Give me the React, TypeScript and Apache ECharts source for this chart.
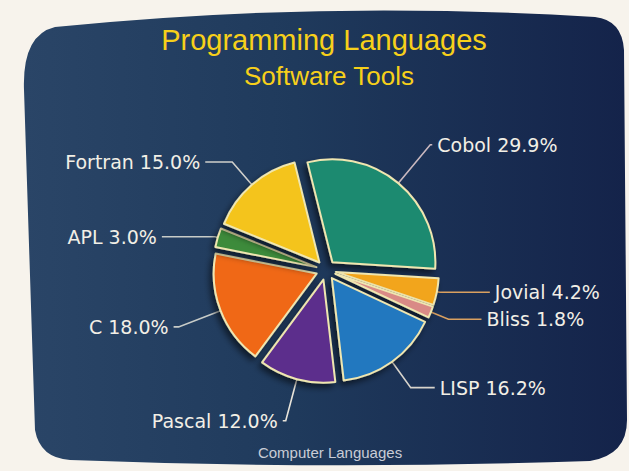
import React, { useEffect, useRef } from "react";
import * as echarts from "echarts";

const languages = ["Cobol", "Jovial", "Bliss", "LISP", "Pascal", "C", "APL", "Fortran"];
const shares = [29.9, 4.2, 1.8, 16.2, 12.0, 18.0, 3.0, 15.0];
const titleText = "Programming Languages";
const subtitleText = "Software Tools";
const footerText = "Computer Languages";

// styling (not data)
const sliceColors = ["#1d8a70", "#f2a51e", "#d98a86", "#2478bf", "#5b2d8c", "#f06818", "#3d8b3a", "#f4c41a"];
const lineColors = ["#c9b8bf", "#d9a060", "#d9a060", "#d8d4cc", "#e8e4da", "#c8ccc8", "#c8ccc8", "#d0d0cc"];
const leaderLen = [50, 3, 19, 32, 43, 45, 3, 30];
const leaderLen2 = [2, 50, 33, 24, 3, 5, 53, 27];

const screenPath =
  "M 55 27 Q 320 0 595 17 Q 622 20 624 50 L 627 420 Q 627 455 590 461 Q 330 470 70 460 Q 40 458 35 430 L 24 90 Q 22 35 55 27 Z";

let registered = false;

export default function App() {
  const ref = useRef<HTMLDivElement>(null);
  useEffect(() => {
    document.body.style.margin = "0";
    if (!registered) {
      echarts.graphic.registerShape("screen", echarts.graphic.extendPath(screenPath, {}) as any);
      registered = true;
    }
    const chart = echarts.init(ref.current!, undefined, { renderer: "svg" });
    const data = languages.map((name, i) => ({
      name,
      value: shares[i],
      selected: true,
      itemStyle: { color: sliceColors[i] },
      labelLine: { length: leaderLen[i], length2: leaderLen2[i], lineStyle: { color: lineColors[i] } },
    }));
    const titleStyle = {
      color: "#f7d01a",
      fontWeight: "normal",
      fontFamily: "Liberation Sans, Arial, sans-serif",
      textShadowColor: "#a8400c",
      textShadowOffsetX: 1.8,
      textShadowOffsetY: 1.8,
    };
    chart.setOption({
      animation: false,
      backgroundColor: "#f7f3ec",
      graphic: {
        elements: [
          {
            type: "screen",
            x: 0,
            y: 0,
            z: -10,
            silent: true,
            style: {
              fill: new echarts.graphic.LinearGradient(0, 0, 1, 0, [
                { offset: 0, color: "#2a4567" },
                { offset: 0.45, color: "#1f3a5c" },
                { offset: 1, color: "#14234a" },
              ]),
            },
          },
        ],
      },
      title: [
        {
          text: titleText,
          left: 319,
          textAlign: "center",
          top: 20,
          textStyle: { ...titleStyle, fontSize: 29 },
        },
        {
          text: subtitleText,
          left: 324,
          textAlign: "center",
          top: 58,
          textStyle: { ...titleStyle, fontSize: 26 },
        },
        {
          text: footerText,
          left: 325,
          textAlign: "center",
          top: 440,
          textStyle: {
            color: "#c9ccd6",
            fontSize: 15,
            fontWeight: "normal",
            fontFamily: "Liberation Sans, Arial, sans-serif",
          },
        },
      ],
      series: [
        {
          type: "pie",
          center: [326, 270],
          radius: 103,
          startAngle: 104,
          clockwise: true,
          selectedMode: "multiple",
          selectedOffset: 10,
          data,
          itemStyle: {
            borderColor: "#efe6b0",
            borderWidth: 2,
            shadowBlur: 6,
            shadowColor: "rgba(0,0,0,0.55)",
            shadowOffsetX: -3,
            shadowOffsetY: 4,
          },
          emphasis: { disabled: true },
          label: {
            show: true,
            position: "outside",
            color: "#f2efe6",
            fontSize: 19,
            fontFamily: "DejaVu Sans, Verdana, sans-serif",
            formatter: (p: any) => `${p.name} ${Number(p.value).toFixed(1)}%`,
            textShadowColor: "rgba(0,0,0,0.5)",
            textShadowOffsetX: 1,
            textShadowOffsetY: 1,
          },
          labelLine: {
            show: true,
            lineStyle: { width: 1.6 },
          },
        },
      ],
    });
    return () => chart.dispose();
  }, []);
  return <div ref={ref} style={{ width: 629, height: 471 }} />;
}
